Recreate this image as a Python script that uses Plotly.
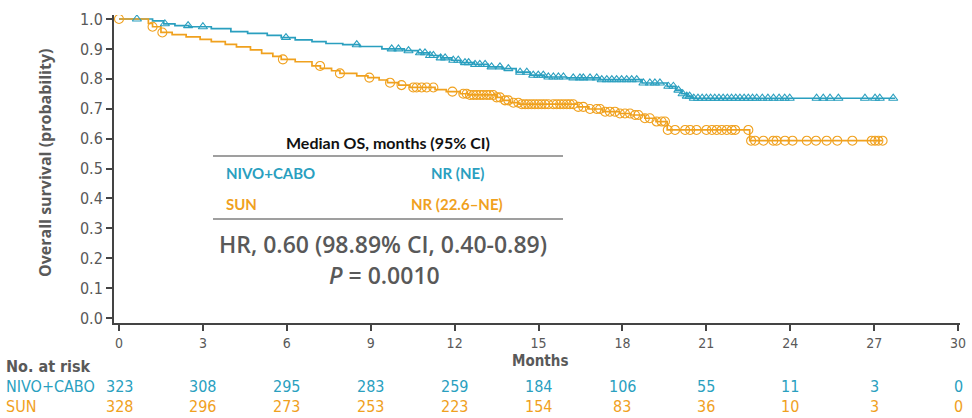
import numpy as np
import plotly.graph_objects as go

TEAL = "#2A9FBF"
ORANGE = "#F0A11E"
GRAY = "#595959"

# ---------------- data ----------------
nivo_t = [0, 1.2, 1.6, 2.0, 2.5, 3.3, 4.0, 4.6, 5.3, 5.8, 6.3, 6.9, 7.4, 8.0, 8.6, 9.4, 10.2, 10.7,
          11.1, 11.5, 11.9, 12.2, 12.7, 13.2, 13.7, 14.2, 14.7, 15.2, 16.0, 17.2, 18.7, 19.6, 19.9,
          20.1, 20.3, 20.5, 27.75]
nivo_s = [1.0, 0.994, 0.984, 0.978, 0.974, 0.968, 0.958, 0.952, 0.945, 0.938, 0.93, 0.924, 0.918,
          0.914, 0.908, 0.9, 0.894, 0.887, 0.878, 0.87, 0.862, 0.854, 0.848, 0.84, 0.834, 0.822,
          0.812, 0.806, 0.803, 0.797, 0.786, 0.775, 0.762, 0.75, 0.742, 0.735, 0.735]
nivo_cens = [0.64, 1.64, 2.47, 3.0, 5.97, 8.5, 9.75, 9.99, 10.35, 10.76, 10.94, 11.12, 11.24, 11.5,
             11.66, 11.95, 12.13, 12.37, 12.5, 12.73, 12.9, 13.09, 13.32, 13.62, 13.92, 14.34,
             14.58, 14.81, 14.99, 15.17, 15.35, 15.53, 15.71, 15.89, 16.24, 16.48, 16.6, 16.84,
             17.08, 17.26, 17.44, 17.62, 17.79, 17.97, 18.15, 18.33, 18.51, 18.75, 18.98, 19.16,
             19.34, 19.64, 19.82, 20.0, 20.15, 20.3, 20.4, 20.55, 20.7, 20.85, 21.0, 21.15, 21.3,
             21.45, 21.6, 21.75, 21.9, 22.05, 22.2, 22.35, 22.5, 22.65, 22.8, 23.0, 23.2, 23.4,
             23.6, 23.8, 23.98, 24.94, 25.18, 25.42, 25.72, 26.67, 27.03, 27.2, 27.68]

sun_t = [0, 1.05, 1.2, 1.5, 1.9, 2.4, 2.9, 3.3, 3.8, 4.2, 4.7, 5.1, 5.5, 5.8, 6.3, 6.9, 7.2, 7.6,
         7.9, 8.5, 8.9, 9.3, 9.6, 10.0, 10.4, 11.3, 11.7, 12.2, 12.5, 13.5, 13.7, 14.0, 14.3, 16.4,
         16.8, 17.3, 17.9, 18.3, 18.8, 19.2, 19.6, 22.55, 27.3]
sun_s = [1.0, 0.985, 0.974, 0.955, 0.948, 0.94, 0.932, 0.924, 0.915, 0.907, 0.897, 0.885, 0.875,
         0.865, 0.857, 0.843, 0.835, 0.827, 0.818, 0.81, 0.804, 0.796, 0.787, 0.779, 0.771, 0.764,
         0.757, 0.75, 0.746, 0.738, 0.728, 0.72, 0.715, 0.706, 0.699, 0.69, 0.684, 0.679, 0.668,
         0.657, 0.629, 0.593, 0.593]
sun_cens = [0.0, 1.2, 1.55, 5.86, 7.19, 7.9, 8.95, 9.69, 10.1, 10.52, 10.64, 10.82, 11.0, 11.24,
            11.92, 12.31, 12.43, 12.55, 12.67, 12.79, 12.91, 13.02, 13.15, 13.26, 13.38, 13.5,
            13.62, 13.8, 13.92, 14.1, 14.28, 14.4, 14.52, 14.63, 14.75, 14.87, 14.99, 15.11,
            15.23, 15.35, 15.53, 15.65, 15.77, 15.89, 16.01, 16.12, 16.24, 16.42, 16.6, 16.84,
            17.08, 17.2, 17.38, 17.55, 17.73, 17.91, 18.09, 18.27, 18.45, 18.57, 18.8, 18.98,
            19.22, 19.4, 19.52, 19.62, 19.88, 20.24, 20.42, 20.65, 21.0, 21.2, 21.37, 21.55,
            21.73, 21.91, 22.03, 22.5, 22.6, 22.74, 23.04, 23.39, 23.51, 23.81, 24.08, 24.59,
            24.92, 25.3, 25.68, 26.22, 26.91, 27.03, 27.15, 27.3]

tick_months = [0, 3, 6, 9, 12, 15, 18, 21, 24, 27, 30]
risk_nivo = [323, 308, 295, 283, 259, 184, 106, 55, 11, 3, 0]
risk_sun = [328, 296, 273, 253, 223, 154, 83, 36, 10, 3, 0]
y_ticks = [0.0, 0.1, 0.2, 0.3, 0.4, 0.5, 0.6, 0.7, 0.8, 0.9, 1.0]


def surv_at(times, steps_t, steps_s):
    idx = np.searchsorted(np.array(steps_t), np.array(times), side="right") - 1
    return np.array(steps_s)[idx]


fig = go.Figure()
fig.add_trace(go.Scatter(x=nivo_t, y=nivo_s, mode="lines", line=dict(color=TEAL, width=1.7, shape="hv"),
                         showlegend=False, hoverinfo="skip"))
fig.add_trace(go.Scatter(x=sun_t, y=sun_s, mode="lines", line=dict(color=ORANGE, width=1.7, shape="hv"),
                         showlegend=False, hoverinfo="skip"))
fig.add_trace(go.Scatter(x=nivo_cens, y=surv_at(nivo_cens, nivo_t, nivo_s), mode="markers",
                         marker=dict(symbol="triangle-up-open", size=8, color=TEAL, line=dict(width=1.1)),
                         showlegend=False))
fig.add_trace(go.Scatter(x=sun_cens, y=surv_at(sun_cens, sun_t, sun_s), mode="markers",
                         marker=dict(symbol="circle-open", size=9, color=ORANGE, line=dict(width=1.1)),
                         showlegend=False))

HRFONT = "Open Sans"
TABFONT = "Lato"
TICKFONT = "DejaVu Sans Condensed, DejaVu Sans"

L, R, T, B = 114, 12, 15, 95
W, H = 972, 418
pw, ph = W - L - R, H - T - B


def py(pix):  # pixel y -> paper
    return (H - B - pix) / ph


def px(pix):
    return (pix - L) / pw


def note(xp, yp, text, font, xanchor="center", **kw):
    return dict(x=px(xp), y=py(yp), xref="paper", yref="paper", xanchor=xanchor, yanchor="middle",
                text=text, showarrow=False, font=font, **kw)


ann = []
# median table
ann.append(note(388, 142, "<b>Median OS, months (95% CI)</b>", dict(family=TABFONT, size=16, color="#111111")))
ann.append(note(224, 173, "<b>NIVO+CABO</b>", dict(family=TABFONT, size=15, color=TEAL), xanchor="left"))
ann.append(note(457, 173, "<b>NR (NE)</b>", dict(family=TABFONT, size=15, color=TEAL)))
ann.append(note(224, 204, "<b>SUN</b>", dict(family=TABFONT, size=15, color=ORANGE), xanchor="left"))
ann.append(note(457, 204, "<b>NR (22.6–NE)</b>", dict(family=TABFONT, size=15, color=ORANGE)))
ann.append(note(383, 244, "HR, 0.60 (98.89% CI, 0.40-0.89)", dict(family=HRFONT, size=23, color=GRAY, weight=600)))
ann.append(note(384, 275, "<i>P</i> = 0.0010", dict(family=HRFONT, size=23, color=GRAY, weight=600)))
# axis titles
ann.append(note(540, 361, "<b>Months</b>", dict(family=TICKFONT, size=15, color=GRAY)))
ann.append(note(45, 163, "<b>Overall survival (probability)</b>", dict(family=HRFONT, size=16, color=GRAY),
                textangle=-90))
# at risk
ann.append(note(4, 366, "<b>No. at risk</b>", dict(family=TICKFONT, size=16, color=GRAY), xanchor="left"))
ann.append(note(4, 386, "NIVO+CABO", dict(family=TICKFONT, size=16, color=TEAL), xanchor="left"))
ann.append(note(4, 406, "SUN", dict(family=TICKFONT, size=16, color=ORANGE), xanchor="left"))
for m, a, b in zip(tick_months, risk_nivo, risk_sun):
    ann.append(dict(x=m, y=py(386), xref="x", yref="paper", xanchor="center", yanchor="middle",
                    text=str(a), showarrow=False, font=dict(family=TICKFONT, size=16, color=TEAL)))
    ann.append(dict(x=m, y=py(406), xref="x", yref="paper", xanchor="center", yanchor="middle",
                    text=str(b), showarrow=False, font=dict(family=TICKFONT, size=16, color=ORANGE)))

shapes = [
    dict(type="line", xref="paper", yref="paper", x0=px(213), x1=px(563), y0=py(156), y1=py(156),
         line=dict(color="#7f7f7f", width=1.5)),
    dict(type="line", xref="paper", yref="paper", x0=px(213), x1=px(563), y0=py(219), y1=py(219),
         line=dict(color="#7f7f7f", width=1.5)),
]

fig.update_layout(
    width=W, height=H, margin=dict(l=L, r=R, t=T, b=B),
    plot_bgcolor="white", paper_bgcolor="white",
    annotations=ann, shapes=shapes,
    xaxis=dict(range=[(L - 119) / 27.97, (W - R - 119) / 27.97], tickvals=tick_months,
               ticktext=[str(t) for t in tick_months], showgrid=False, zeroline=False,
               showline=True, linecolor="#444444", linewidth=2, ticks="outside", ticklen=6,
               tickwidth=1.5, tickcolor="#444444", automargin=False,
               tickfont=dict(family=TICKFONT, size=14, color=GRAY)),
    yaxis=dict(range=[-5 / 299, 303 / 299], tickvals=y_ticks, ticktext=[f"{v:.1f}" for v in y_ticks],
               showgrid=False, zeroline=False, showline=True, linecolor="#444444", linewidth=2,
               ticks="outside", ticklen=6, tickwidth=1.5, tickcolor="#444444", automargin=False,
               tickfont=dict(family=TICKFONT, size=16, color=GRAY)),
)

fig.write_html("out.html", config={"displayModeBar": False},
               post_script="document.body.style.margin='0px';document.body.style.overflow='hidden';")
